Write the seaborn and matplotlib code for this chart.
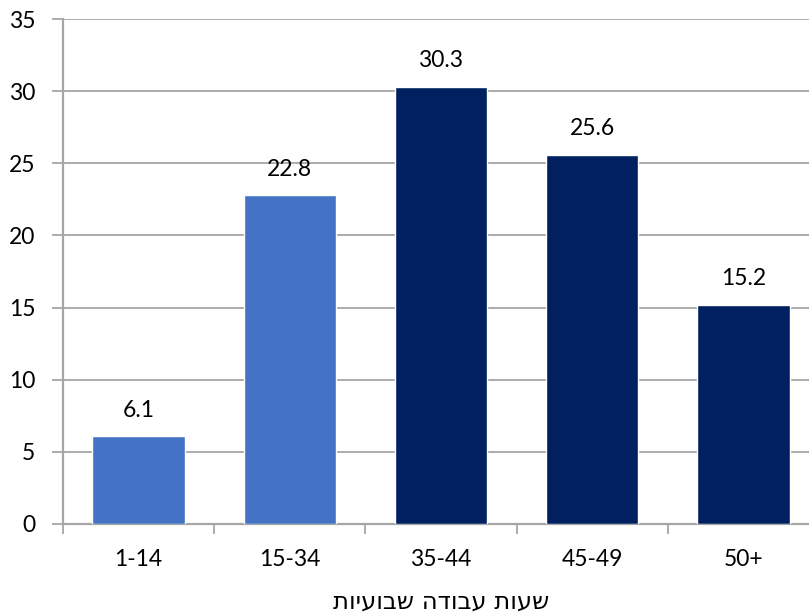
import matplotlib
matplotlib.use("Agg")
import matplotlib.pyplot as plt
import numpy as np
import pandas as pd
import seaborn as sns

# Weekly working hours distribution (percent)
categories = ["1-14", "15-34", "35-44", "45-49", "50+"]
values = [6.1, 22.8, 30.3, 25.6, 15.2]
bar_colors = ["#4472C4", "#4472C4", "#002060", "#002060", "#002060"]
y_ticks = [0, 5, 10, 15, 20, 25, 30, 35]
x_title = "שעות עבודה שבועיות"


def visual(text):
    # matplotlib lays glyphs out left-to-right; reverse Hebrew for display
    return text[::-1]


sns.set_theme(style="white")
plt.rcParams["font.family"] = ["Lato", "DejaVu Sans"]

df = pd.DataFrame({"cat": categories, "val": values})

fig = plt.figure(figsize=(8.09, 6.13), dpi=100)
ax = fig.add_axes([63 / 809, 89 / 613, 756 / 809, 505 / 613])

sns.barplot(data=df, x="cat", y="val", hue="cat", palette=bar_colors,
            width=0.61, saturation=1, legend=False, ax=ax, zorder=3)

grid_c = "#A6A6A6"
ax.set_ylim(0, 35)
ax.set_xlim(-0.5, len(categories) - 0.5)
ax.set_yticks(y_ticks)
ax.yaxis.grid(True, color=grid_c, linewidth=1.3, zorder=0)
ax.set_axisbelow(True)

for side in ["top", "right"]:
    ax.spines[side].set_visible(False)
for side in ["left", "bottom"]:
    ax.spines[side].set_color(grid_c)
    ax.spines[side].set_linewidth(1.6)

ax.tick_params(axis="y", which="major", length=8, width=1.3, color=grid_c,
               labelsize=16.5, labelcolor="black", pad=12, left=True)
ax.tick_params(axis="x", which="major", length=0, labelsize=16.5,
               labelcolor="black", pad=18)
ax.set_xticks(np.arange(-0.5, len(categories), 1.0), minor=True)
ax.tick_params(axis="x", which="minor", length=7, width=1.3, color=grid_c,
               bottom=True)

ax.set_xlabel(visual(x_title), fontsize=17.5, color="black", labelpad=14,
              family=["DejaVu Sans"])
ax.set_ylabel("")

for i, v in enumerate(values):
    ax.annotate(f"{v:.1f}", (i, v), xytext=(0, 14), textcoords="offset points",
                ha="center", va="baseline", fontsize=16.5, color="black")

fig.savefig("out.png", dpi=100)
